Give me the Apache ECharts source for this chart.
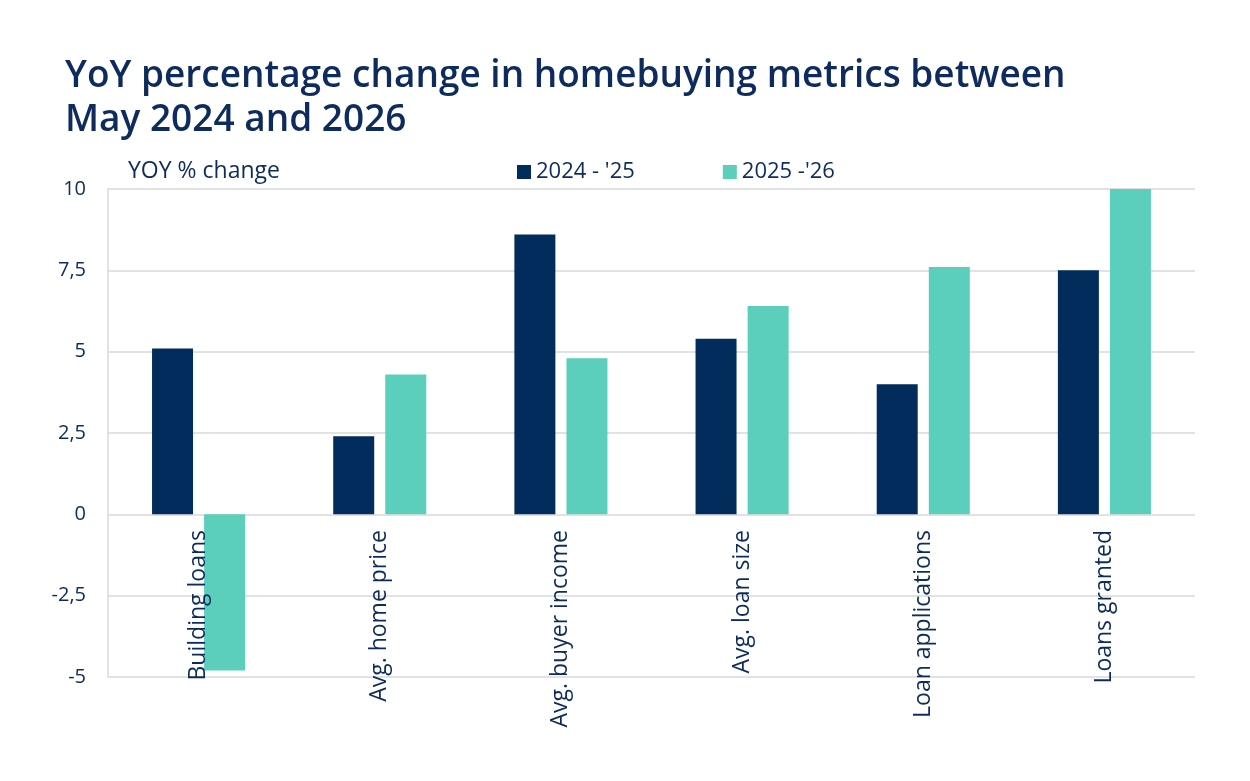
<!DOCTYPE html>
<html>
<head>
<meta charset="utf-8">
<script src="https://cdn.jsdelivr.net/npm/echarts@6/dist/echarts.min.js"></script>
<style>
    html, body { margin: 0; padding: 0; background: #fff; }
    #chart { width: 1250px; height: 781px; }
</style>
</head>
<body>
<div id="chart"></div>
<script type="text/javascript">
    // categories and values
    var categories = ['Building loans', 'Avg. home price', 'Avg. buyer income', 'Avg. loan size', 'Loan applications', 'Loans granted'];
    var series2425 = [5.1, 2.4, 8.6, 5.4, 4.0, 7.5];
    var series2526 = [-4.8, 4.3, 4.8, 6.4, 7.6, 10.0];
    var seriesNames = ["2024 - '25", "2025 -'26"];

    var navy = '#0d2b5c';
    var font = 'Open Sans';

    var chart = echarts.init(document.getElementById('chart'));
    var option = {
        backgroundColor: '#ffffff',
        textStyle: { fontFamily: font, color: navy },
        color: ['#012c5c', '#5bcfbb'],
        title: {
            text: 'YoY percentage change in homebuying metrics between\nMay 2024 and 2026',
            left: 60,
            top: 49,
            textStyle: {
                fontFamily: font,
                fontSize: 37,
                fontWeight: 600,
                color: navy,
                lineHeight: 44
            }
        },
        legend: {
            data: seriesNames,
            left: 512,
            top: 156,
            itemWidth: 14,
            itemHeight: 14,
            itemGap: 88,
            icon: 'rect',
            textStyle: { fontFamily: font, fontSize: 22, color: navy }
        },
        grid: {
            left: 108,
            right: 55,
            top: 189,
            bottom: 104,
            outerBoundsMode: 'none'
        },
        xAxis: {
            type: 'category',
            data: categories,
            z: 10,
            // category labels hang from the zero line
            offset: -162,
            axisLine: { show: false, onZero: false },
            axisTick: { show: false },
            axisLabel: {
                rotate: 90,
                margin: 15,
                fontFamily: font,
                fontSize: 23,
                color: navy
            }
        },
        yAxis: {
            type: 'value',
            name: 'YOY % change',
            nameLocation: 'end',
            nameGap: 6,
            nameTextStyle: {
                fontFamily: font,
                fontSize: 23,
                color: navy,
                align: 'left',
                padding: [0, 0, 0, 20]
            },
            min: -5,
            max: 10,
            interval: 2.5,
            axisLine: { show: true, lineStyle: { color: '#d9d9d9', width: 1.5 } },
            axisTick: { show: false },
            splitLine: { lineStyle: { color: '#d9d9d9', width: 1.5 } },
            axisLabel: {
                margin: 22,
                fontFamily: font,
                fontSize: 20,
                color: navy,
                formatter: function (v) { return String(v).replace('.', ','); }
            }
        },
        series: [
            {
                name: seriesNames[0],
                type: 'bar',
                barWidth: 41,
                barGap: '27%',
                data: series2425
            },
            {
                name: seriesNames[1],
                type: 'bar',
                barWidth: 41,
                barGap: '27%',
                data: series2526
            }
        ]
    };
    chart.setOption(option);
</script>
</body>
</html>
